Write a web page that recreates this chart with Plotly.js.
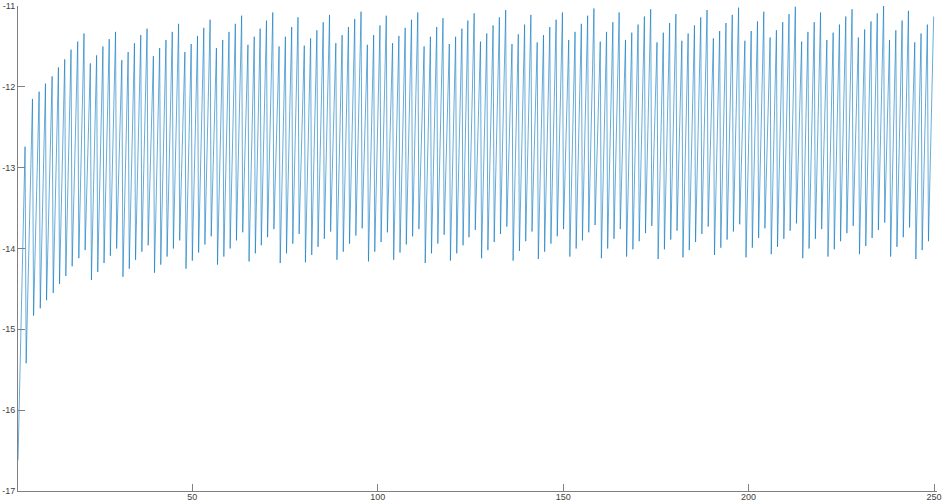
<!DOCTYPE html>
<html>
<head>
<meta charset="utf-8">
<script src="https://cdn.plot.ly/plotly-3.0.1.min.js"></script>
<style>
  html, body { margin: 0; padding: 0; background: #fff; }
  #plot { width: 945px; height: 503px; }
</style>
</head>
<body>
<div id="plot"></div>
<script>
// tips of the sawtooth
var peakX = [4.9, 6.9, 8.7, 10.4, 12.2, 13.9, 15.6, 17.3, 19.1, 20.8,
  22.5, 24.2, 25.9, 27.6, 29.3, 31.0, 32.7, 34.4, 36.1, 37.8,
  39.5, 41.2, 42.9, 44.6, 46.3, 48.0, 49.7, 51.4, 53.1, 54.8,
  56.5, 58.2, 59.9, 61.6, 63.3, 65.0, 66.7, 68.3, 70.0, 71.7,
  73.4, 75.1, 76.8, 78.5, 80.2, 81.9, 83.6, 85.3, 87.0, 88.7,
  90.4, 92.1, 93.8, 95.5, 97.2, 98.9, 100.6, 102.3, 104.0, 105.7,
  107.4, 109.1, 110.8, 112.5, 114.2, 115.9, 117.6, 119.3, 121.0, 122.7,
  124.3, 126.0, 127.7, 129.4, 131.1, 132.8, 134.5, 136.2, 137.9, 139.6,
  141.3, 143.0, 144.7, 146.4, 148.1, 149.8, 151.5, 153.2, 154.9, 156.6,
  158.3, 160.0, 161.7, 163.4, 165.1, 166.8, 168.5, 170.2, 171.9, 173.6,
  175.3, 177.0, 178.7, 180.4, 182.0, 183.7, 185.4, 187.1, 188.8, 190.5,
  192.2, 193.9, 195.6, 197.3, 199.0, 200.7, 202.4, 204.1, 205.8, 207.5,
  209.2, 210.9, 212.6, 214.3, 216.0, 217.7, 219.4, 221.1, 222.8, 224.5,
  226.2, 227.9, 229.6, 231.3, 233.0, 234.7, 236.4, 238.0, 239.7, 241.4,
  243.1, 244.8, 246.5, 248.2, 249.9];

var peakY = [-12.74, -12.15, -12.06, -11.96, -11.87, -11.76, -11.66, -11.54, -11.44, -11.34,
  -11.71, -11.61, -11.50, -11.41, -11.32, -11.67, -11.57, -11.46, -11.36, -11.28,
  -11.62, -11.52, -11.42, -11.32, -11.22, -11.57, -11.47, -11.37, -11.27, -11.17,
  -11.52, -11.42, -11.32, -11.22, -11.12, -11.48, -11.38, -11.28, -11.18, -11.08,
  -11.50, -11.38, -11.26, -11.14, -11.49, -11.40, -11.30, -11.20, -11.11, -11.46,
  -11.36, -11.26, -11.16, -11.07, -11.48, -11.36, -11.24, -11.12, -11.46, -11.37,
  -11.27, -11.17, -11.08, -11.50, -11.38, -11.26, -11.15, -11.47, -11.38, -11.28,
  -11.18, -11.09, -11.44, -11.34, -11.24, -11.14, -11.05, -11.47, -11.35, -11.23,
  -11.11, -11.45, -11.36, -11.26, -11.17, -11.08, -11.42, -11.32, -11.22, -11.12,
  -11.03, -11.44, -11.32, -11.20, -11.08, -11.42, -11.33, -11.23, -11.13, -11.04,
  -11.45, -11.33, -11.21, -11.10, -11.43, -11.34, -11.24, -11.14, -11.05, -11.40,
  -11.31, -11.21, -11.11, -11.02, -11.43, -11.31, -11.19, -11.07, -11.39, -11.30,
  -11.20, -11.10, -11.01, -11.44, -11.32, -11.20, -11.08, -11.42, -11.33, -11.23,
  -11.13, -11.04, -11.39, -11.29, -11.19, -11.09, -11.00, -11.42, -11.30, -11.18,
  -11.06, -11.45, -11.34, -11.23, -11.13];

// bottoms: first one is the start of the line, then one after each peak
var troughX = [3.0,
  5.2, 7.2, 9.0, 10.7, 12.5, 14.2, 15.9, 17.6, 19.4, 21.1,
  22.8, 24.5, 26.2, 27.9, 29.6, 31.3, 33.0, 34.7, 36.4, 38.1,
  39.8, 41.5, 43.2, 44.9, 46.6, 48.3, 50.0, 51.7, 53.4, 55.1,
  56.8, 58.5, 60.2, 61.9, 63.6, 65.3, 67.0, 68.6, 70.3, 72.0,
  73.7, 75.4, 77.1, 78.8, 80.5, 82.2, 83.9, 85.6, 87.3, 89.0,
  90.7, 92.4, 94.1, 95.8, 97.5, 99.2, 100.9, 102.6, 104.3, 106.0,
  107.7, 109.4, 111.1, 112.8, 114.5, 116.2, 117.9, 119.6, 121.3, 123.0,
  124.6, 126.3, 128.0, 129.7, 131.4, 133.1, 134.8, 136.5, 138.2, 139.9,
  141.6, 143.3, 145.0, 146.7, 148.4, 150.1, 151.8, 153.5, 155.2, 156.9,
  158.6, 160.3, 162.0, 163.7, 165.4, 167.1, 168.8, 170.5, 172.2, 173.9,
  175.6, 177.3, 179.0, 180.7, 182.3, 184.0, 185.7, 187.4, 189.1, 190.8,
  192.5, 194.2, 195.9, 197.6, 199.3, 201.0, 202.7, 204.4, 206.1, 207.8,
  209.5, 211.2, 212.9, 214.6, 216.3, 218.0, 219.7, 221.4, 223.1, 224.8,
  226.5, 228.2, 229.9, 231.6, 233.3, 235.0, 236.7, 238.3, 240.0, 241.7,
  243.4, 245.1, 246.8, 248.5];

var troughY = [-16.62,
  -15.42, -14.83, -14.74, -14.64, -14.55, -14.44, -14.34, -14.22, -14.12, -14.02,
  -14.39, -14.29, -14.18, -14.09, -14.00, -14.35, -14.25, -14.14, -14.04, -13.96,
  -14.30, -14.20, -14.10, -14.00, -13.90, -14.25, -14.15, -14.05, -13.95, -13.85,
  -14.20, -14.10, -14.00, -13.90, -13.80, -14.16, -14.06, -13.96, -13.86, -13.76,
  -14.18, -14.06, -13.94, -13.82, -14.17, -14.08, -13.98, -13.88, -13.79, -14.14,
  -14.04, -13.94, -13.84, -13.75, -14.16, -14.04, -13.92, -13.80, -14.14, -14.05,
  -13.95, -13.85, -13.76, -14.18, -14.06, -13.94, -13.83, -14.15, -14.06, -13.96,
  -13.86, -13.77, -14.12, -14.02, -13.92, -13.82, -13.73, -14.15, -14.03, -13.91,
  -13.79, -14.13, -14.04, -13.94, -13.85, -13.76, -14.10, -14.00, -13.90, -13.80,
  -13.71, -14.12, -14.00, -13.88, -13.76, -14.10, -14.01, -13.91, -13.81, -13.72,
  -14.13, -14.01, -13.89, -13.78, -14.11, -14.02, -13.92, -13.82, -13.73, -14.08,
  -13.99, -13.89, -13.79, -13.70, -14.11, -13.99, -13.87, -13.75, -14.07, -13.98,
  -13.88, -13.78, -13.69, -14.12, -14.00, -13.88, -13.76, -14.10, -14.01, -13.91,
  -13.81, -13.72, -14.07, -13.97, -13.87, -13.77, -13.68, -14.10, -13.98, -13.86,
  -13.74, -14.13, -14.02, -13.91];

var xTicks = [50, 100, 150, 200, 250];
var yTicks = [-17, -16, -15, -14, -13, -12, -11];
var yTickText = ['-17', '-16', '-15', '-14', '-13', '-12', '-11'];

// walk bottom -> top -> bottom ...
var xs = [];
var ys = [];
for (var i = 0; i < peakX.length; i++) {
  xs.push(troughX[i]);
  ys.push(troughY[i]);
  xs.push(peakX[i]);
  ys.push(peakY[i]);
}

var trace = {
  x: xs,
  y: ys,
  type: 'scatter',
  mode: 'lines',
  line: { color: '#0072BD', width: 0.6 },
  hoverinfo: 'skip'
};

var layout = {
  width: 945,
  height: 503,
  margin: { l: 18, r: 8, t: 6, b: 12 },
  paper_bgcolor: '#ffffff',
  plot_bgcolor: '#ffffff',
  showlegend: false,
  font: { family: 'Liberation Sans, Arial, sans-serif', size: 9, color: '#404040' },
  xaxis: {
    range: [3, 250.8],
    tickvals: xTicks,
    ticks: 'inside',
    ticklen: 7,
    tickcolor: '#808080',
    ticklabelstandoff: -3,
    showline: true,
    linecolor: '#808080',
    linewidth: 1,
    showgrid: false,
    zeroline: false,
    automargin: false
  },
  yaxis: {
    range: [-17, -11],
    tickvals: yTicks,
    ticktext: yTickText,
    ticks: 'inside',
    ticklen: 7,
    tickcolor: '#808080',
    showline: true,
    linecolor: '#808080',
    linewidth: 1,
    showgrid: false,
    zeroline: false,
    automargin: false
  }
};

Plotly.newPlot('plot', [trace], layout, { staticPlot: true, displayModeBar: false });
</script>
</body>
</html>
